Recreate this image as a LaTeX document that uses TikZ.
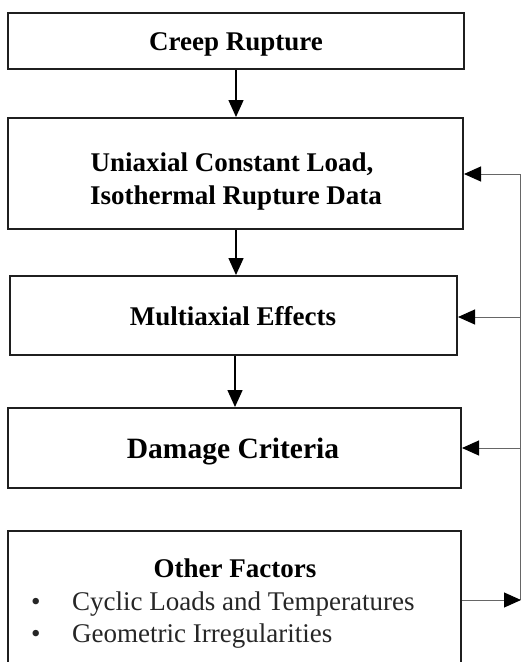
\documentclass[tikz,border=0pt]{standalone}
\usepackage{fontspec}
\setmainfont{Liberation Serif}
\usetikzlibrary{arrows.meta,calc}
\begin{document}
\begin{tikzpicture}[x=1pt,y=-1pt,
  boxnode/.style={draw=black!88,line width=2pt,rectangle,inner sep=0pt,fill=white},
  headtext/.style={anchor=base,inner sep=0pt,font=\fontsize{27}{33}\selectfont\bfseries},
  bigtext/.style={anchor=base,inner sep=0pt,font=\fontsize{29.5}{35}\selectfont\bfseries},
  listtext/.style={anchor=base west,inner sep=0pt,font=\fontsize{27}{33}\selectfont,text=black!85},
  flow/.style={line width=1.5pt,-{Triangle[length=17pt,width=15pt]}},
  feed/.style={draw=black!60,line width=1pt},
  feedarrow/.style={draw=black!60,line width=1pt,-{Triangle[length=17pt,width=15pt,color=black]}}]
\clip (0,0) rectangle (521,662);
\fill[white] (0,0) rectangle (521,662);
% boxes
\node[boxnode,minimum width=456pt,minimum height=56pt] (b1) at (236,41) {};
\node[boxnode,minimum width=455pt,minimum height=111pt] (b2) at (235.5,173.5) {};
\node[boxnode,minimum width=447pt,minimum height=79pt] (b3) at (233.5,315.5) {};
\node[boxnode,minimum width=453pt,minimum height=80pt] (b4) at (234.5,448) {};
\node[boxnode,minimum width=453pt,minimum height=133pt] (b5) at (234.5,597.5) {};
% texts
\node[headtext] (t1) at (236,50) {Creep Rupture};
\node[headtext] (t2a) at (232,171) {Uniaxial Constant Load,};
\node[headtext] (t2b) at (236,204) {Isothermal Rupture Data};
\node[headtext] (t3) at (233,325) {Multiaxial Effects};
\node[bigtext] (t4) at (233,458) {Damage Criteria};
\node[headtext] (t5) at (235,577) {Other Factors};
\node[listtext] (bul1) at (31,610) {•};
\node[listtext] (l1) at (72,610) {Cyclic Loads and Temperatures};
\node[listtext] (bul2) at (31,642) {•};
\node[listtext] (l2) at (72,642) {Geometric Irregularities};
% flow arrows
\draw[flow] (b1.south) -- (b1.south |- b2.north);
\draw[flow] (b1.south |- b2.south) -- (b1.south |- b3.north);
\draw[flow] ($(b3.south)+(1.5,0)$) -- ($(b3.south |- b4.north)+(1.5,0)$);
% feedback
\coordinate (ftop) at (520,174);
\coordinate (fbot) at (520,600);
\coordinate (f3) at (520,317);
\coordinate (f4) at (520,448);
\draw[feed] (ftop) -- (fbot);
\draw[feedarrow] (ftop) -- (ftop -| b2.east);
\draw[feedarrow] (f3) -- (f3 -| b3.east);
\draw[feedarrow] (f4) -- (f4 -| b4.east);
\draw[feedarrow] (fbot -| b5.east) -- ($(fbot)+(1,0)$);
\end{tikzpicture}
\end{document}
